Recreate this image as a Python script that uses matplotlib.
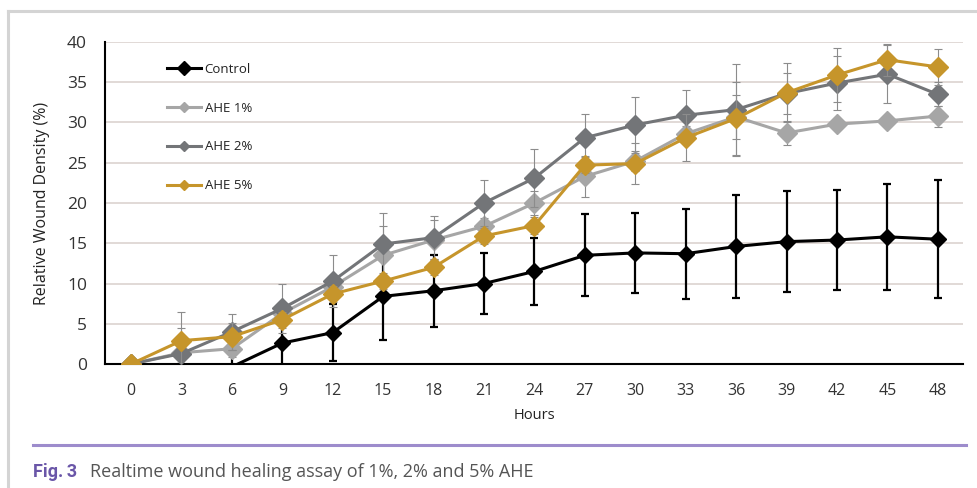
import numpy as np
import matplotlib
matplotlib.use("Agg")
import matplotlib.pyplot as plt
from matplotlib.lines import Line2D

plt.rcParams['font.family'] = ['Open Sans', 'DejaVu Sans']

hours = [0, 3, 6, 9, 12, 15, 18, 21, 24, 27, 30, 33, 36, 39, 42, 45, 48]

control = [0, -1.0, -0.35, 2.6, 3.9, 8.4, 9.1, 10.0, 11.5, 13.5, 13.8, 13.7, 14.6, 15.2, 15.4, 15.8, 15.5]
control_err = [0, 1.0, 2.0, 2.7, 3.5, 5.4, 4.5, 3.8, 4.2, 5.1, 5.0, 5.6, 6.4, 6.3, 6.2, 6.6, 7.3]

ahe1 = [0, 1.4, 1.9, 6.3, 9.6, 13.5, 15.4, 17.1, 20.0, 23.3, 25.2, 28.6, 30.7, 28.7, 29.8, 30.2, 30.8]
ahe1_err = [0, 0.5, 1.0, 1.0, 1.0, 3.6, 2.5, 1.0, 1.5, 2.5, 1.2, 1.0, 2.7, 1.5, 0.5, 0.5, 1.3]

ahe2 = [0, 1.3, 4.0, 6.9, 10.3, 14.9, 15.7, 20.0, 23.1, 28.1, 29.7, 30.9, 31.6, 33.6, 34.9, 36.0, 33.5]
ahe2_err = [0, 3.2, 2.2, 3.0, 3.2, 3.9, 2.7, 2.9, 3.6, 3.0, 3.5, 3.1, 5.7, 2.6, 3.4, 3.6, 1.5]

ahe5 = [0, 2.9, 3.4, 5.5, 8.7, 10.3, 12.0, 15.9, 17.2, 24.7, 24.9, 28.1, 30.5, 33.7, 35.9, 37.8, 36.9]
ahe5_err = [0, 3.6, 1.7, 1.0, 1.0, 1.0, 1.0, 1.0, 1.0, 1.0, 2.6, 2.9, 4.5, 3.7, 3.4, 2.0, 2.2]

labels = ['Control', 'AHE 1%', 'AHE 2%', 'AHE 5%']
colors = ['#000000', '#a6a6a6', '#737578', '#c6952b']

fig = plt.figure(figsize=(9.78, 4.88), dpi=100)

# outer frame (top and left border)
fig.add_artist(Line2D([8/978, 1.0], [1 - 11/488, 1 - 11/488], color='#d4d4d4', lw=2.2))
fig.add_artist(Line2D([8/978, 8/978], [0, 1 - 11/488], color='#d4d4d4', lw=2.2))
# purple rule
fig.add_artist(Line2D([33/978, 966/978], [1 - 445/488, 1 - 445/488], color='#9d8ccc', lw=2.2))

ax = fig.add_axes([105/978, 1 - 364/488, (963 - 105)/978, (364 - 42)/488])
ax.set_xlim(-1.55, 49.5)
ax.set_ylim(0, 40)
ax.set_yticks(range(0, 41, 5))
ax.set_xticks(hours)
ax.yaxis.grid(True, color='#d8cfcb', lw=1.1)
ax.set_axisbelow(True)
for s in ['top', 'right']:
    ax.spines[s].set_visible(False)
ax.spines['left'].set_linewidth(1.5)
ax.spines['bottom'].set_linewidth(1.5)
ax.tick_params(axis='both', length=0, colors='#333333')
ax.tick_params(axis='y', labelsize=12.5, pad=13)
ax.tick_params(axis='x', labelsize=11.5, pad=14)
ax.set_xlabel('Hours', fontsize=10.5, color='#222222', labelpad=6)
ax.set_ylabel('Relative Wound Density (%)', fontsize=11.5, color='#222222', labelpad=12)

hrs = np.array(hours, dtype=float)

# Control
c = np.array(control)
ax.errorbar(hrs, c, yerr=control_err, fmt='none', ecolor='black', elinewidth=1.6,
            capsize=3, capthick=1.6, zorder=3)
ax.plot(hrs, c, color='black', lw=2.2, zorder=4)
cm = np.where(c >= 0, c, np.nan)
ax.plot(hrs, cm, ls='none', marker='D', ms=8.5, color='black', zorder=4)

series = [(ahe1, ahe1_err, colors[1]), (ahe2, ahe2_err, colors[2]), (ahe5, ahe5_err, colors[3])]
for i, (vals, err, col) in enumerate(series):
    ax.errorbar(hrs, vals, yerr=err, fmt='none', ecolor='#8c8c8c', elinewidth=0.8,
                capsize=3, capthick=0.8, zorder=5 + 2*i)
    ax.plot(hrs, vals, color=col, lw=2.2, marker='D', ms=10.5, mec=col,
            zorder=6 + 2*i)

handles = [
    Line2D([], [], color=colors[0], lw=2.2, marker='D', ms=7),
    Line2D([], [], color=colors[1], lw=2.2, marker='D', ms=5.5),
    Line2D([], [], color=colors[2], lw=2.2, marker='D', ms=5.5),
    Line2D([], [], color=colors[3], lw=2.2, marker='D', ms=5.5),
]
leg = ax.legend(handles, labels, loc='upper left', bbox_to_anchor=((167 - 105)/858, (364 - 63)/322),
                frameon=False, fontsize=9.5, labelspacing=1.95, handlelength=2.6,
                handletextpad=0.25, borderpad=0, borderaxespad=0)
for t in leg.get_texts():
    t.set_color('#222222')

fig.text(33/978, 1 - 472/488, 'Fig.\u20093', fontsize=13, fontweight='bold', color='#6a56a8',
         family=['Roboto', 'DejaVu Sans'], va='center', ha='left')
fig.text(90/978, 1 - 472/488, 'Realtime wound healing assay of 1%, 2% and 5% AHE',
         fontsize=13, color='#555555', va='center', ha='left')

fig.savefig('out.png', dpi=100)
